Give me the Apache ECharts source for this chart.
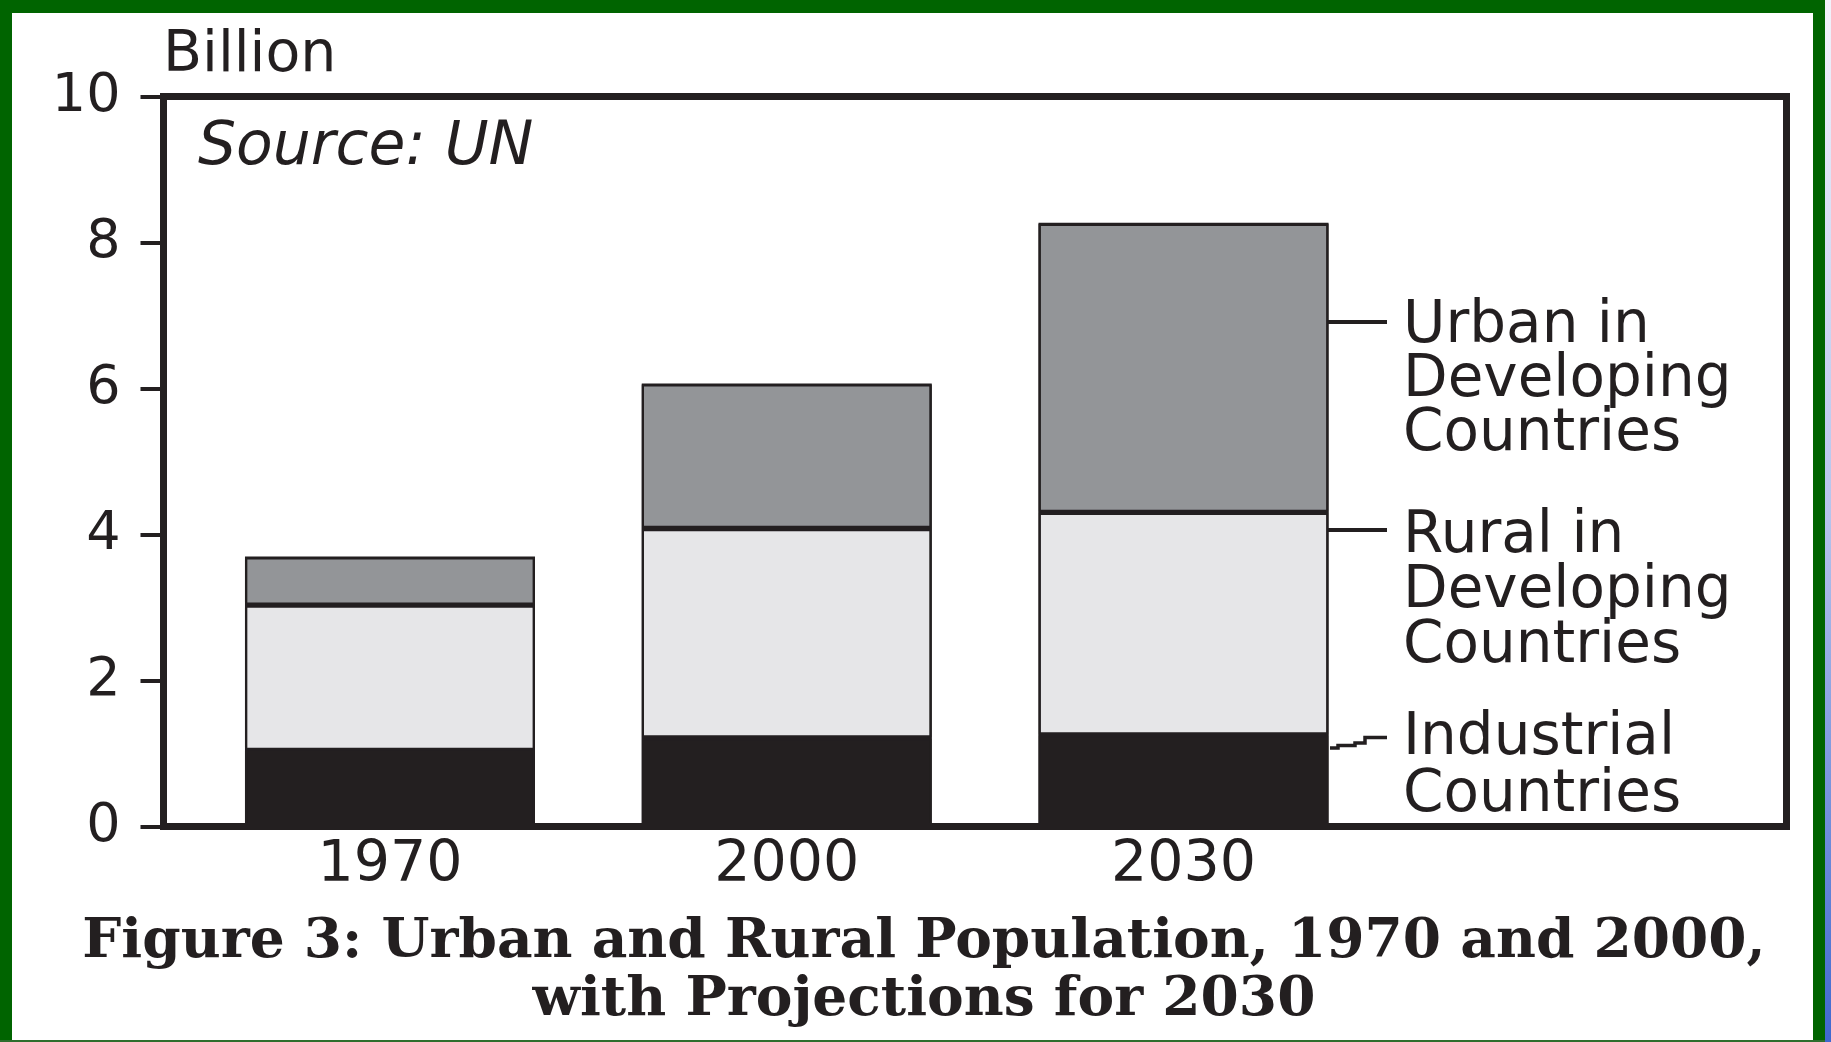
<!DOCTYPE html>
<html>
<head>
<meta charset="utf-8">
<script src="https://cdn.jsdelivr.net/npm/echarts@6/dist/echarts.min.js"></script>
<style>
html,body{margin:0;padding:0;background:#fff;}
#chart{width:1831px;height:1042px;}
</style>
</head>
<body>
<div id="chart"></div>
<script>
// ---- data ----
const years = ['1970', '2000', '2030'];
const industrial = [1.05, 1.22, 1.26];
const rural = [1.99, 2.87, 3.05];
const urban = [0.66, 1.98, 3.96];
const seriesNames = ['Industrial Countries', 'Rural in Developing Countries', 'Urban in Developing Countries'];
const labelTexts = ['Industrial\nCountries', 'Rural in\nDeveloping\nCountries', 'Urban in\nDeveloping\nCountries'];
const yTicks = [0, 2, 4, 6, 8, 10];
const yUnit = 'Billion';
const sourceText = 'Source: UN';
const titleText = 'Figure 3: Urban and Rural Population, 1970 and 2000,\nwith Projections for 2030';

const INK = '#231f20';
const SANS = '"DejaVu Sans", sans-serif';
const SERIF = '"DejaVu Serif", serif';

const chart = echarts.init(document.getElementById('chart'), null, {renderer: 'canvas'});

// a 1px dark shadow shifted down closes any hairline gap between stacked segments
const barStyle = (color) => ({color: color, borderColor: INK, borderWidth: 2.2,
  shadowColor: INK, shadowBlur: 0, shadowOffsetX: 0, shadowOffsetY: 1});

const option = {
  animation: false,
  backgroundColor: '#ffffff',
  grid: [
    {left: 163.5, right: 44.5, top: 96.5, bottom: 215.5, show: true, borderColor: INK, borderWidth: 7, backgroundColor: 'transparent', z: 5},
    {left: 191.6, right: 449.1, top: 96.5, bottom: 215.5}
  ],
  xAxis: [
    {gridIndex: 0, type: 'value', min: 0, max: 1, show: false},
    {gridIndex: 1, type: 'category', data: years,
     axisLine: {show: false}, axisTick: {show: false},
     axisLabel: {fontFamily: SANS, fontSize: 57, color: INK, margin: 40, verticalAlign: 'middle'}}
  ],
  yAxis: [
    {gridIndex: 0, type: 'value', min: yTicks[0], max: yTicks[yTicks.length - 1], interval: 2,
     axisLine: {show: false}, splitLine: {show: false},
     axisTick: {show: true, length: 23, lineStyle: {color: INK, width: 4}},
     axisLabel: {fontFamily: SANS, fontSize: 54, color: INK, margin: 43}},
    {gridIndex: 1, type: 'value', min: yTicks[0], max: yTicks[yTicks.length - 1], show: false, splitLine: {show: false}}
  ],
  series: [
    {name: seriesNames[0], type: 'bar', xAxisIndex: 1, yAxisIndex: 1, stack: 'pop', barWidth: 290, data: industrial, itemStyle: barStyle('#231f20')},
    {name: seriesNames[1], type: 'bar', xAxisIndex: 1, yAxisIndex: 1, stack: 'pop', barWidth: 290, data: rural, itemStyle: barStyle('#e6e6e8')},
    {name: seriesNames[2], type: 'bar', xAxisIndex: 1, yAxisIndex: 1, stack: 'pop', barWidth: 290, data: urban, itemStyle: barStyle('#939598')}
  ],
  graphic: [
    // green frame
    {type: 'rect', shape: {x: 0, y: 0, width: 12, height: 1042}, style: {fill: '#006400'}, silent: true},
    {type: 'rect', shape: {x: 0, y: 0, width: 1825, height: 13}, style: {fill: '#006400'}, silent: true},
    {type: 'rect', shape: {x: 1813, y: 0, width: 12, height: 1042}, style: {fill: '#006400'}, silent: true},
    {type: 'rect', shape: {x: 0, y: 1040, width: 1825, height: 2}, style: {fill: '#2e6e2e'}, silent: true},
    {type: 'rect', shape: {x: 1825, y: 0, width: 6, height: 1042}, silent: true,
     style: {fill: new echarts.graphic.LinearGradient(0, 0, 0, 1, [{offset: 0, color: '#f2f3fb'}, {offset: 0.5, color: '#b5c3ec'}, {offset: 1, color: '#3f68cf'}])}},
    // unit & source
    {type: 'text', x: 163, y: 56, style: {text: yUnit, font: '57px ' + SANS, fill: INK, verticalAlign: 'middle'}},
    {type: 'text', x: 198, y: 148, style: {text: sourceText, font: 'italic 60px ' + SANS, fill: INK, verticalAlign: 'middle'}},
    // leader lines
    {type: 'line', shape: {x1: 1321, y1: 322, x2: 1387, y2: 322}, style: {stroke: INK, lineWidth: 4}},
    {type: 'line', shape: {x1: 1321, y1: 530, x2: 1387, y2: 530}, style: {stroke: INK, lineWidth: 4}},
    {type: 'polyline', shape: {points: [[1330, 748], [1338, 748], [1338, 745.5], [1355, 745.5], [1355, 743], [1365, 743], [1365, 737.5], [1387, 737.5]]}, style: {stroke: INK, lineWidth: 3.5, fill: null}},
    // series labels
    {type: 'text', x: 1403, y: 300, style: {text: labelTexts[2], font: '58px ' + SANS, lineHeight: 54, fill: INK, verticalAlign: 'top'}},
    {type: 'text', x: 1403, y: 509, style: {text: labelTexts[1], font: '58px ' + SANS, lineHeight: 55, fill: INK, verticalAlign: 'top'}},
    {type: 'text', x: 1403, y: 710, style: {text: labelTexts[0], font: '58px ' + SANS, lineHeight: 57, fill: INK, verticalAlign: 'top'}},
    // caption
    {type: 'text', x: 924, y: 914, style: {text: titleText, font: 'bold 55px ' + SERIF, lineHeight: 58, fill: INK, align: 'center', verticalAlign: 'top'}}
  ]
};
chart.setOption(option);
</script>
</body>
</html>
